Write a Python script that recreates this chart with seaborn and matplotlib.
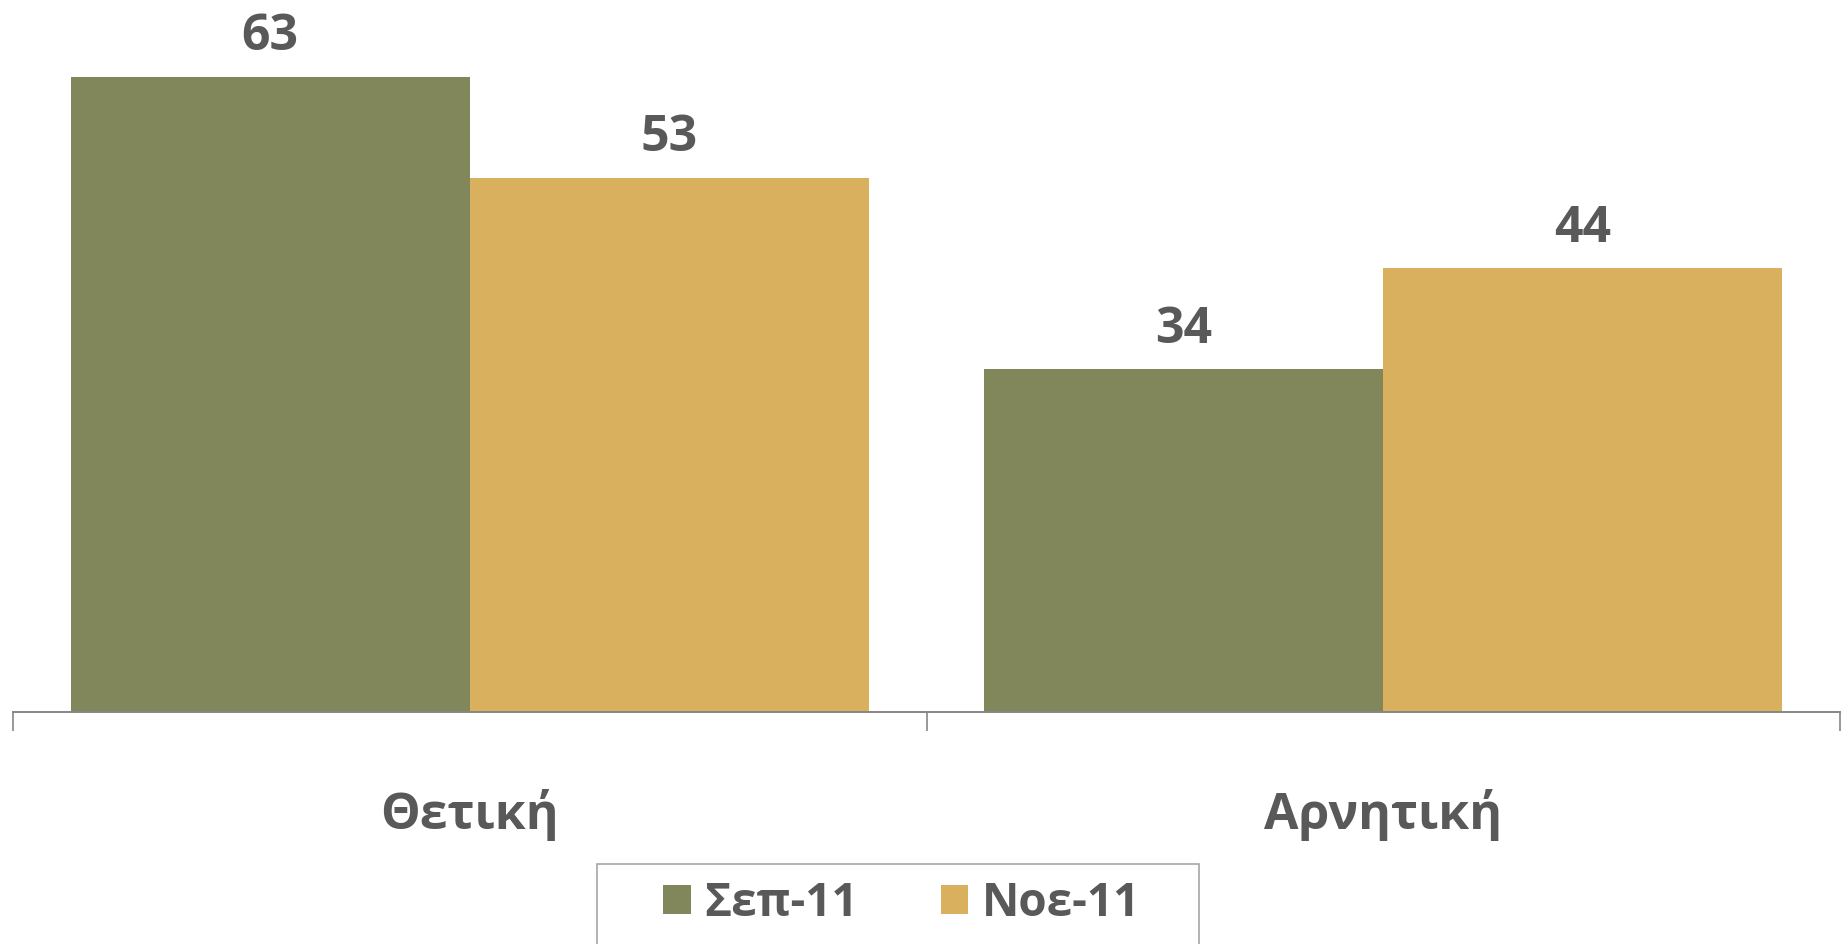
import pandas as pd
import matplotlib.pyplot as plt
import seaborn as sns
from matplotlib.patches import Rectangle

# Δεδομένα
categories = ["Θετική", "Αρνητική"]
series = ["Σεπ-11", "Νοε-11"]
sep_values = [63, 34]
nov_values = [53, 44]
colors = ["#82875B", "#D9B15E"]

df = pd.DataFrame({
    "category": categories * 2,
    "period": [series[0]] * 2 + [series[1]] * 2,
    "value": sep_values + nov_values,
})

sns.set_style("white")
plt.rcParams['font.family'] = ['Open Sans', 'DejaVu Sans']
plt.rcParams['font.weight'] = 'bold'
text_color = "#595959"
axis_color = "#868686"

W, H = 1843, 945
fig = plt.figure(figsize=(W / 100, H / 100), dpi=100)
ax = fig.add_axes([13 / W, 1 - 713 / H, (1840 - 13) / W, 713 / H])

sns.barplot(data=df, x="category", y="value", hue="period", order=categories,
            hue_order=series, palette=colors, width=0.874, gap=0,
            saturation=1, linewidth=0, ax=ax, legend=True)

for cont in ax.containers:
    ax.bar_label(cont, padding=11, fontsize=36, fontweight='bold', color=text_color)

ax.set_xlim(-0.5, 1.5)
ax.set_ylim(0, 70.7)
ax.set_xlabel("")
ax.set_ylabel("")
ax.set_yticks([])
for s in ["top", "right", "left"]:
    ax.spines[s].set_visible(False)
ax.spines["bottom"].set_color(axis_color)
ax.spines["bottom"].set_linewidth(1.4)

ax.set_xticks([-0.5, 0.5, 1.5], minor=True)
ax.tick_params(axis="x", which="minor", bottom=True, length=14, width=1.2,
               color=axis_color, direction="out")
ax.tick_params(axis="x", which="major", bottom=True, length=0, pad=55, labelsize=36,
               labelcolor=text_color)
for lbl in ax.get_xticklabels():
    lbl.set_fontweight('bold')

handles, labels = ax.get_legend_handles_labels()
ax.get_legend().remove()
leg = fig.legend(handles, labels, loc="center", bbox_to_anchor=(902 / W, 1 - 904 / H),
                 ncol=2, frameon=False, fontsize=33, handlelength=0.6, handleheight=0.6,
                 handletextpad=0.3, columnspacing=1.8, borderpad=0)
for t in leg.get_texts():
    t.set_color(text_color)
    t.set_fontweight('bold')

fig.patches.append(Rectangle((597 / W, -0.05), (1199 - 597) / W, 0.05 + (945 - 865) / H,
                             transform=fig.transFigure, fill=False,
                             edgecolor="#A6A6A6", linewidth=1.2))

fig.savefig("out.png", dpi=100)
plt.close()
